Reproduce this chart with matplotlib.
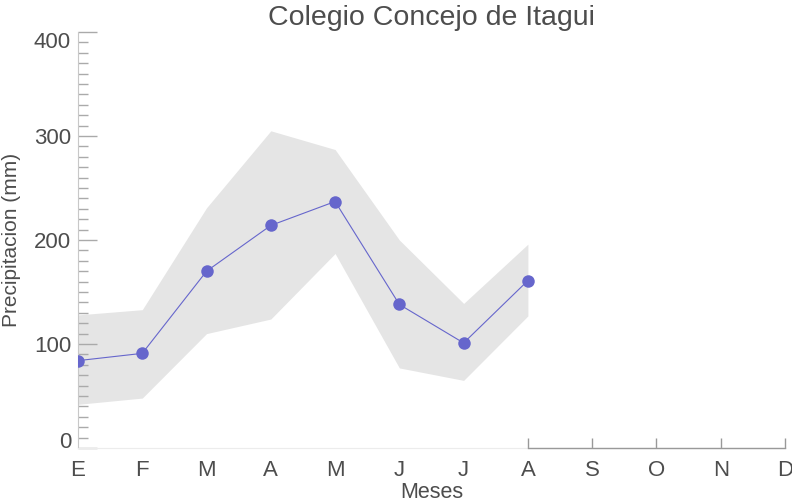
"""
Precipitacion mensual - Colegio Concejo de Itagui.
Outputs: out.png
"""

import matplotlib
matplotlib.use("Agg")
import matplotlib.pyplot as plt
from matplotlib.ticker import FixedLocator, MultipleLocator
import matplotlib.transforms as mtransforms

meses = ["E", "F", "M", "A", "M", "J", "J", "A", "S", "O", "N", "D"]
precip = [84, 91, 170, 214, 237, 138, 101, 161]
banda_sup = [128, 133, 231, 305, 287, 200, 139, 196]
banda_inf = [42, 48, 110, 124, 187, 77, 65, 127]

plt.rcParams["font.family"] = ["Liberation Sans", "DejaVu Sans"]
texto = "#4d4d4d"

fig = plt.figure(figsize=(7.92, 5.03), dpi=100)
ax = fig.add_axes([78 / 792, 1 - 448 / 503, (785 - 78) / 792, (448 - 32) / 503])

x = list(range(len(precip)))
ax.fill_between(x, banda_inf, banda_sup, color="#e5e5e5", linewidth=0, zorder=1)
ax.plot(x, precip, color="#6666cc", linewidth=0.8, marker="o", markersize=9,
        markeredgewidth=0, zorder=3)

ax.set_xlim(0, len(meses) - 1)
ax.set_ylim(0, 400)

# spines
for s in ["top", "right"]:
    ax.spines[s].set_visible(False)
ax.spines["left"].set_color("#c8c8c8")
ax.spines["bottom"].set_color("#ececec")

# darker axis segment for months without data
trans = mtransforms.blended_transform_factory(ax.transData, ax.transAxes)
ax.plot([len(precip) - 1, len(meses) - 1], [0, 0], color="#999999", linewidth=1,
        transform=trans, clip_on=False, zorder=4)

# x ticks: labels for all months, marks only where no data
ax.set_xticks(range(len(meses)))
ax.set_xticklabels(meses)
ax.tick_params(axis="x", which="major", length=0, pad=9, labelsize=16, labelcolor=texto)
ax.xaxis.remove_overlapping_locs = False
ax.xaxis.set_minor_locator(FixedLocator(range(len(precip) - 1, len(meses))))
ax.tick_params(axis="x", which="minor", direction="in", length=7, width=1, color="#999999")

# y ticks
ax.set_yticks([0, 100, 200, 300, 400])
ax.yaxis.set_minor_locator(MultipleLocator(10))
ax.tick_params(axis="y", which="major", direction="in", length=14, width=1,
               color="#aaaaaa", labelsize=16, labelcolor=texto, pad=5)
ax.tick_params(axis="y", which="minor", direction="in", length=7, width=1, color="#aaaaaa")
ylabs = ax.get_yticklabels()
ylabs[0].set_va("baseline")
ylabs[-1].set_va("top")

ax.set_title("Colegio Concejo de Itagui", fontsize=20.5, color=texto, pad=5)
ax.set_xlabel("Meses", fontsize=15.5, color=texto, labelpad=0)
ax.set_ylabel("Precipitacion (mm)", fontsize=15, color=texto, labelpad=9)

fig.savefig("out.png", dpi=100)
